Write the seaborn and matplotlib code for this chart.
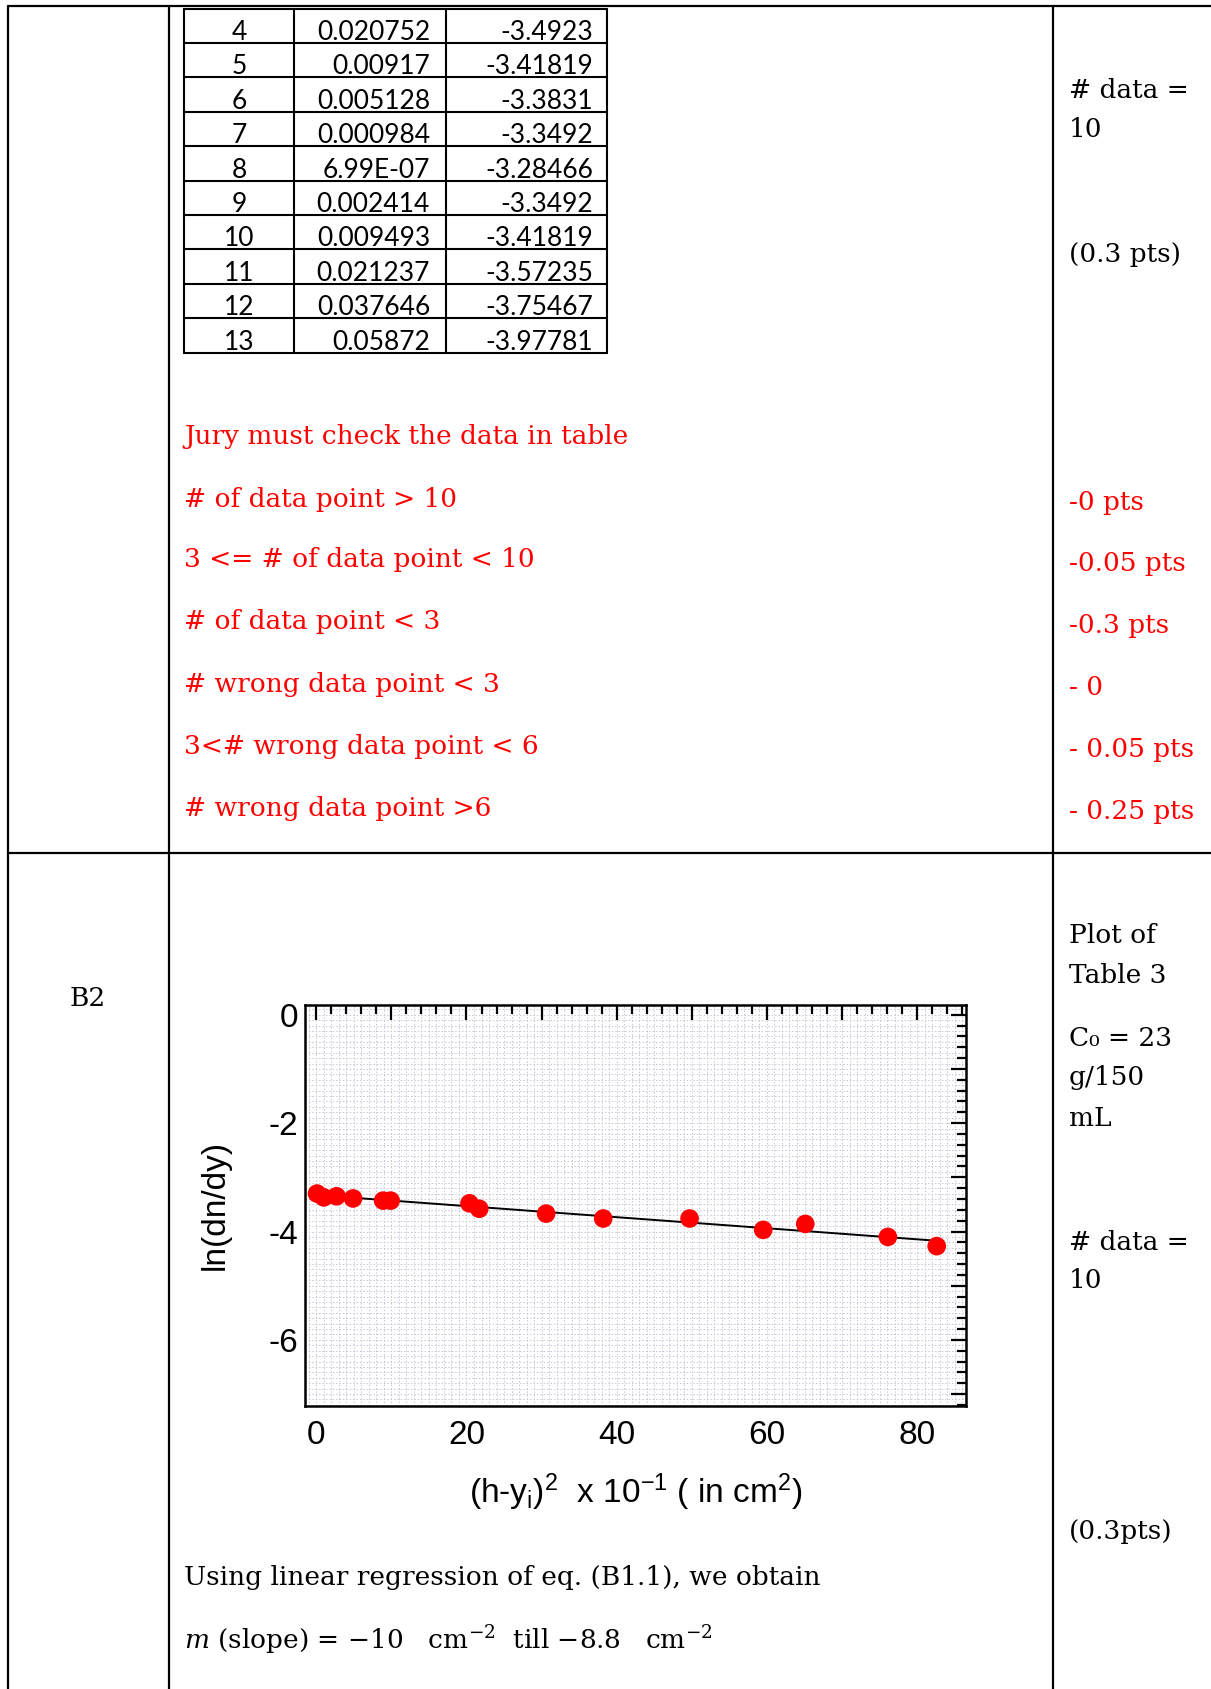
"""
 B2 marking sheet: table tail, marking rules and ln(dn/dy) plot
"""
import numpy as np
import matplotlib.pyplot as plt
import matplotlib.ticker as mticker
import seaborn as sns

sns.set_style('white')
plt.rcParams['font.family'] = ['DejaVu Serif']
plt.rcParams['axes.unicode_minus'] = False
plt.rcParams['text.color'] = 'black'
plt.rcParams['xtick.color'] = 'black'
plt.rcParams['ytick.color'] = 'black'
plt.rcParams['mathtext.fontset'] = 'custom'
plt.rcParams['mathtext.rm'] = 'Liberation Sans'
plt.rcParams['mathtext.it'] = 'Liberation Sans:italic'

# table rows (tail of Table 3)
row_no = [4, 5, 6, 7, 8, 9, 10, 11, 12, 13]
col_dev = ['0.020752', '0.00917', '0.005128', '0.000984', '6.99E-07',
           '0.002414', '0.009493', '0.021237', '0.037646', '0.05872']
col_ln = ['-3.4923', '-3.41819', '-3.3831', '-3.3492', '-3.28466',
          '-3.3492', '-3.41819', '-3.57235', '-3.75467', '-3.97781']

rules = ['# of data point > 10', '3 <= # of data point < 10', '# of data point < 3',
         '# wrong data point < 3', '3<# wrong data point < 6', '# wrong data point >6']
penalties = ['-0 pts', '-0.05 pts', '-0.3 pts', '- 0', '- 0.05 pts', '- 0.25 pts']

# plotted points, (h-y)^2 x 10^-1 vs ln(dn/dy)
hy2 = [0.1, 1.0, 2.7, 4.9, 8.9, 9.9, 20.4, 21.7, 30.6, 38.2, 49.7, 59.5, 65.1, 76.1, 82.6]
ln_dndy = [-3.30, -3.37, -3.35, -3.39, -3.43, -3.43, -3.48, -3.58, -3.67, -3.76,
           -3.76, -3.97, -3.86, -4.10, -4.27]

W, H = 1211, 1689
RED = '#ff0000'
fig = plt.figure(figsize=(W / 100, H / 100), dpi=100)

# page layer in pixel coordinates
pg = fig.add_axes([0, 0, 1, 1])
pg.set_xlim(0, W)
pg.set_ylim(H, 0)
pg.axis('off')

lw = 1.6
for xv in [8, 169, 1053]:
    pg.plot([xv, xv], [6, H], color='black', lw=lw)
pg.plot([8, W], [6, 6], color='black', lw=lw)
pg.plot([8, W], [853, 853], color='black', lw=lw)

# small table
tx = [184, 294, 446, 607]
ty0, rh = 8.5, 34.4
for i in range(len(row_no) + 1):
    pg.plot([tx[0], tx[-1]], [ty0 + i * rh] * 2, color='black', lw=1.5)
for xv in tx:
    pg.plot([xv, xv], [ty0, ty0 + len(row_no) * rh], color='black', lw=1.5)
for i, (a, b, c) in enumerate(zip(row_no, col_dev, col_ln)):
    yb = ty0 + (i + 1) * rh - 3
    kw = dict(family='Lato', fontsize=19, va='baseline', color='black')
    pg.text((tx[0] + tx[1]) / 2, yb, str(a), ha='center', **kw)
    pg.text(tx[2] - 16, yb, b, ha='right', **kw)
    pg.text(tx[3] - 14, yb, c, ha='right', **kw)

fs = 19
pg.text(184, 436, 'Jury must check the data in table', color=RED, fontsize=fs, va='center')
rule_y = [499, 560, 622, 684, 746, 808]
for ry, r, p in zip(rule_y, rules, penalties):
    pg.text(184, ry, r, color=RED, fontsize=fs, va='center')
    pg.text(1069, ry + 3, p, color=RED, fontsize=fs, va='center')

for ty, t in [(90, '# data ='), (129, '10'), (254, '(0.3 pts)'),
              (935, 'Plot of'), (975, 'Table 3'), (1038, 'C₀ = 23'), (1078, 'g/150'),
              (1119, 'mL'), (1242, '# data ='), (1281, '10'), (1531, '(0.3pts)')]:
    pg.text(1069, ty, t, fontsize=fs, va='center')

pg.text(70, 998, 'B2', fontsize=fs, va='center')
pg.text(184, 1578, 'Using linear regression of eq. (B1.1), we obtain', fontsize=fs, va='center')
pg.text(184, 1640, r'$\it{m}$ (slope) = −10   cm$^{-2}$  till −8.8   cm$^{-2}$',
        fontsize=fs, va='center', math_fontfamily='dejavuserif')

# the plot
L, R, T, B = 305, 966, 1005, 1406
ax = fig.add_axes([L / W, 1 - B / H, (R - L) / W, (B - T) / H])
for gx in np.arange(-1, 87, 1):
    ax.axvline(gx, color='#c6c6d6', lw=0.7, ls=(0, (1.5, 2)), zorder=0)
for gy in np.arange(-7.2, 0.25, 0.1):
    ax.axhline(gy, color='#c6c6d6', lw=0.7, ls=(0, (1.5, 2)), zorder=0)

sns.regplot(x=hy2, y=ln_dndy, ax=ax, scatter=False, ci=None, color='black',
            line_kws={'lw': 1.4, 'zorder': 2})
sns.scatterplot(x=hy2, y=ln_dndy, ax=ax, color=RED, s=180, edgecolor='none',
                zorder=3, legend=False)

ax.set_xlim(-1.5, 86.5)
ax.set_ylim(-7.22, 0.18)
ax.xaxis.set_major_locator(mticker.MultipleLocator(10))
ax.xaxis.set_minor_locator(mticker.MultipleLocator(2))
ax.yaxis.set_major_locator(mticker.MultipleLocator(1))
ax.yaxis.set_minor_locator(mticker.MultipleLocator(0.2))
ax.xaxis.set_major_formatter(mticker.FuncFormatter(
    lambda v, p: f'{v:.0f}' if round(v) % 20 == 0 else ''))
ax.yaxis.set_major_formatter(mticker.FuncFormatter(
    lambda v, p: f'{v:.0f}' if round(v) % 2 == 0 else ''))
ax.tick_params(which='both', direction='in', top=True, right=True, color='black', width=1.6)
ax.tick_params(which='major', length=11)
ax.tick_params(which='minor', length=6.5)
ax.tick_params(axis='x', pad=10)
ax.tick_params(axis='y', pad=5)
for lab in ax.get_xticklabels() + ax.get_yticklabels():
    lab.set_family('Liberation Sans')
    lab.set_fontsize(24)
for s in ax.spines.values():
    s.set_color('black')
    s.set_linewidth(1.8)
ax.set_xlabel('')
ax.set_ylabel('')

fig.text(215 / W, 1 - 1205 / H, 'ln(dn/dy)', rotation=90, ha='center', va='center',
         family='Liberation Sans', fontsize=24)
fig.text(636 / W, 1 - 1492 / H,
         '(h-y$_\\mathrm{i}$)$^\\mathrm{2}$  x 10$^\\mathrm{-1}$ ( in cm$^\\mathrm{2}$)',
         ha='center', va='center', family='Liberation Sans', fontsize=24,
         math_fontfamily='custom')

fig.savefig('out.png', dpi=100)
